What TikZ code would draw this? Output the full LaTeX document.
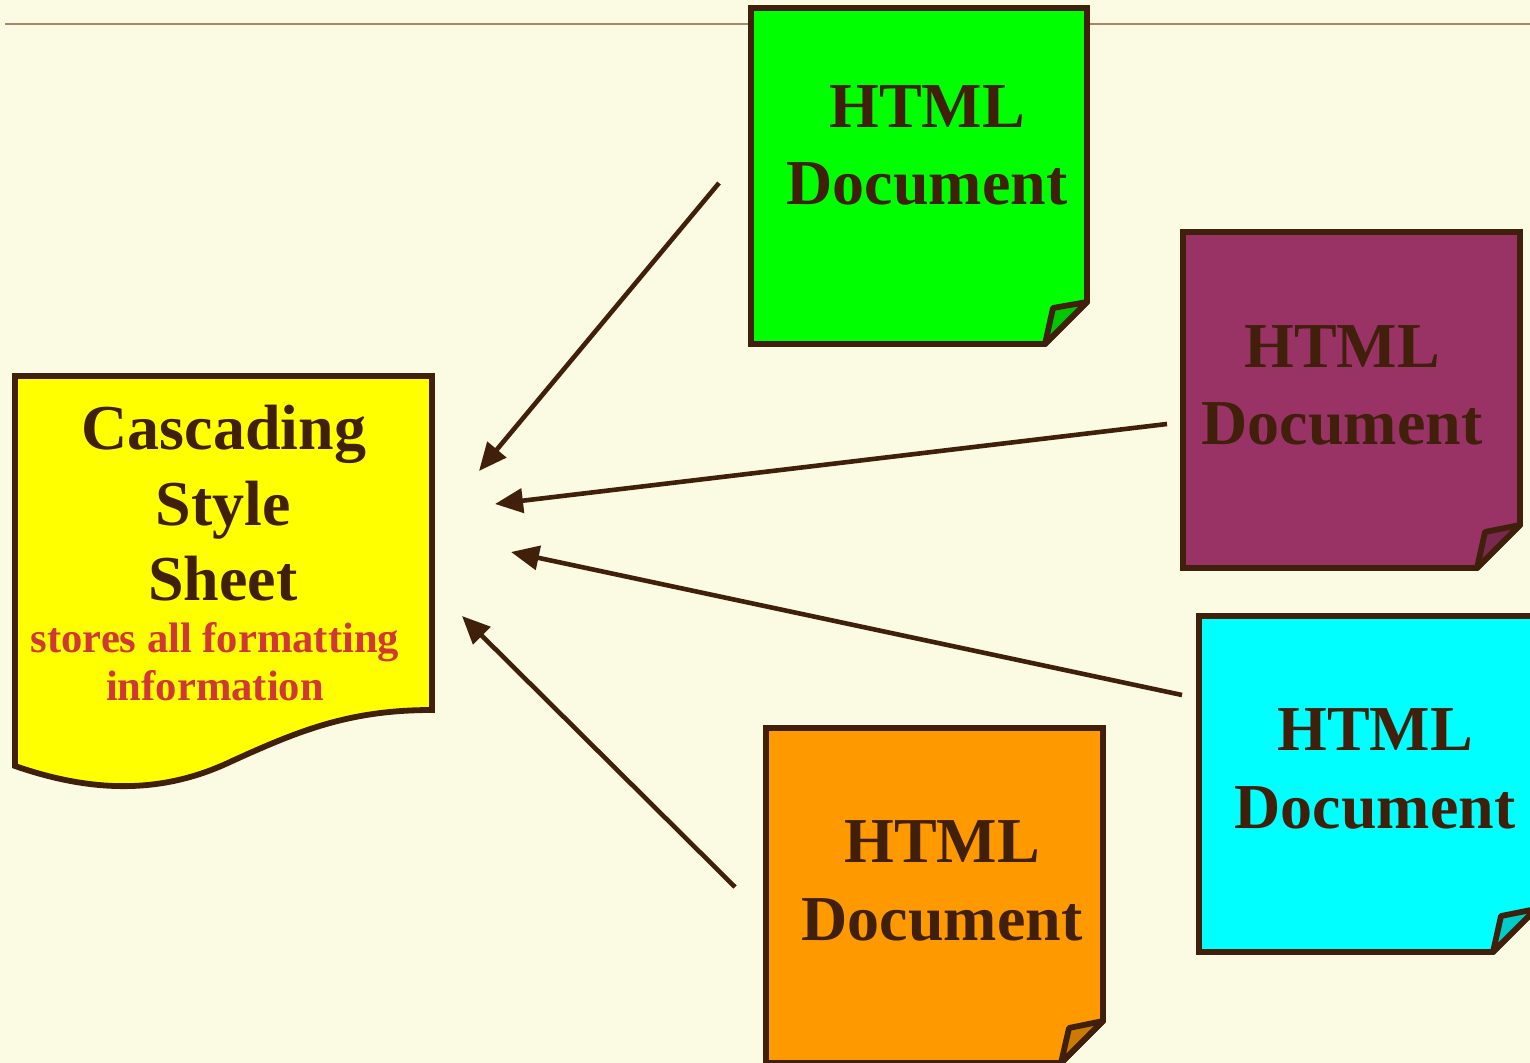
\documentclass[tikz,border=0pt]{standalone}
\usepackage{fontspec}
\setmainfont{Liberation Serif}
\usetikzlibrary{arrows.meta}
\definecolor{bg}{HTML}{FBFAE3}
\definecolor{brd}{HTML}{40200A}
\definecolor{rule}{HTML}{A88868}
\definecolor{redtxt}{HTML}{D03838}
\definecolor{yfill}{HTML}{FFFF00}
\definecolor{gfill}{HTML}{00FF00}
\definecolor{gflap}{HTML}{00C800}
\definecolor{pfill}{HTML}{993366}
\definecolor{pflap}{HTML}{7A2852}
\definecolor{cfill}{HTML}{00FFFF}
\definecolor{cflap}{HTML}{00CCCC}
\definecolor{ofill}{HTML}{FF9900}
\definecolor{oflap}{HTML}{CC7A00}
\tikzset{
  boxline/.style={draw=brd, line width=2.9pt, line join=miter},
  flapline/.style={draw=brd, line width=2.9pt, line join=bevel},
  bigtxt/.style={anchor=base, inner sep=0pt, text=brd, font=\fontsize{32}{38}\selectfont\bfseries},
  redline/.style={anchor=base, inner sep=0pt, text=redtxt, font=\fontsize{21.3}{24}\selectfont\bfseries},
  conn/.style={draw=brd, line width=2.3pt, -{Triangle[length=14pt,width=12pt]}}
}
\begin{document}
\begin{tikzpicture}[x=0.5pt,y=-0.5pt]
\useasboundingbox (0,0) rectangle (1530,1063);
\fill[bg] (0,0) rectangle (1530,1063);
\begin{scope}
\clip (0,0) rectangle (1530,1063);
% top rule
\draw[rule, line width=0.7pt] (5,24) -- (1530,24);
% green document
\path[boxline, fill=gfill] (751,8) -- (1087,8) -- (1087,302) -- (1045,344) -- (751,344) -- cycle;
\path[flapline, fill=gflap] (1045,344) -- (1053,308) -- (1087,302) -- cycle;
% purple document
\path[boxline, fill=pfill] (1183,232) -- (1520,232) -- (1520,525) -- (1477,568) -- (1183,568) -- cycle;
\path[flapline, fill=pflap] (1477,568) -- (1485,532) -- (1520,525) -- cycle;
% cyan document
\path[boxline, fill=cfill] (1199,616) -- (1536,616) -- (1536,909) -- (1493,952) -- (1199,952) -- cycle;
\path[flapline, fill=cflap] (1493,952) -- (1501,916) -- (1536,909) -- cycle;
% orange document
\path[boxline, fill=ofill] (766,728) -- (1103,728) -- (1103,1021) -- (1061,1063) -- (766,1063) -- cycle;
\path[flapline, fill=oflap] (1061,1063) -- (1069,1028) -- (1103,1021) -- cycle;
% yellow style sheet
\path[boxline, fill=yfill] (15,376) -- (432,376) -- (432,710)
  .. controls (350,710) and (300,730) .. (230,762)
  .. controls (160,795) and (90,792) .. (15,766) -- cycle;
\end{scope}
% texts
\node[bigtxt] (g1) at (927,128) {HTML};
\node[bigtxt] (g2) at (927,205) {Document};
\node[bigtxt] (p1) at (1342,368) {HTML};
\node[bigtxt] (p2) at (1342,445) {Document};
\node[bigtxt] (c1) at (1375,750) {HTML};
\node[bigtxt] (c2) at (1375,828) {Document};
\node[bigtxt] (o1) at (942,862) {HTML};
\node[bigtxt] (o2) at (942,940) {Document};
\node[bigtxt] (y1) at (224,450) {Cascading};
\node[bigtxt] (y2) at (223,525) {Style};
\node[bigtxt] (y3) at (223,600) {Sheet};
\node[redline] (y4) at (215,652) {stores all formatting};
\node[redline] (y5) at (215,700) {information};
% connector end points
\coordinate (a1s) at (719,183);
\coordinate (a1e) at (479,471);
\coordinate (a2s) at (1167,424);
\coordinate (a2e) at (495,504);
\coordinate (a3s) at (1182,695);
\coordinate (a3e) at (511,552);
\coordinate (a4s) at (735,887);
\coordinate (a4e) at (462,616);
\draw[conn] (a1s) -- (a1e);
\draw[conn] (a2s) -- (a2e);
\draw[conn] (a3s) -- (a3e);
\draw[conn] (a4s) -- (a4e);
\end{tikzpicture}
\end{document}
